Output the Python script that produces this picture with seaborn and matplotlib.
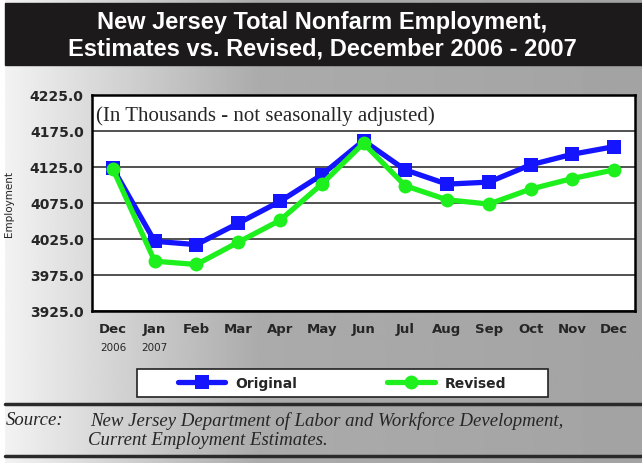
import numpy as np
import pandas as pd
import matplotlib
matplotlib.use("Agg")
import matplotlib.pyplot as plt
import seaborn as sns
from matplotlib.patches import Rectangle
from matplotlib.lines import Line2D

months = ["Dec", "Jan", "Feb", "Mar", "Apr", "May", "Jun", "Jul", "Aug", "Sep", "Oct", "Nov", "Dec"]
years = ["2006", "2007"]
original = [4123.3, 4021.8, 4017.2, 4046.8, 4077.2, 4114.1, 4161.6, 4121.0, 4101.2, 4104.0, 4128.0, 4142.7, 4153.3]
revised = [4122.4, 3994.2, 3989.6, 4020.5, 4050.9, 4101.2, 4157.9, 4098.9, 4079.5, 4073.5, 4094.3, 4109.0, 4121.0]
yticks = [3925, 3975, 4025, 4075, 4125, 4175, 4225]
series = ["Original", "Revised"]
colors = {"Original": "#1414ff", "Revised": "#1ef01e"}
markers = {"Original": "s", "Revised": "o"}

df = pd.DataFrame({
    "pos": list(range(len(months))) * 2,
    "Employment": original + revised,
    "series": ["Original"] * len(months) + ["Revised"] * len(months),
})

sns.set_style("white")
plt.rcParams["font.family"] = ["DejaVu Sans"]

W, H = 642, 464
fig = plt.figure(figsize=(W / 100, H / 100), dpi=100)

# pixel canvas for background, title bar, rules and source note
bg = fig.add_axes([0, 0, 1, 1], zorder=0)
bg.set_xlim(0, W)
bg.set_ylim(H, 0)
bg.axis("off")
grad = np.interp(np.linspace(0, 1, 400), [0, 0.4, 1], [0.95, 0.67, 0.64])
bg.imshow(grad[None, :], cmap="gray", vmin=0, vmax=1, aspect="auto",
          extent=(5, W, H, 0), zorder=0)
bg.add_patch(Rectangle((5, 4), W - 5, 62, color="#1c1a1a", zorder=1))
bg.text(322, 23, "New Jersey Total Nonfarm Employment,", color="white",
        family="Liberation Sans", weight="bold",
        ha="center", va="center", size=17, zorder=2)
bg.text(322, 49, "Estimates vs. Revised, December 2006 - 2007", color="white",
        family="Liberation Sans", weight="bold",
        ha="center", va="center", size=17, zorder=2)
bg.plot([5, W], [405, 405], color="#2a2a2a", lw=2.5, zorder=1)
bg.plot([5, W], [457, 457], color="#2a2a2a", lw=2.5, zorder=1)
bg.text(6, 421, "Source:", family="Liberation Serif", style="italic",
        size=13.5, va="center", zorder=2)
bg.text(90, 421, "New Jersey Department of Labor and Workforce Development,",
        family="Liberation Serif", style="italic", size=13.5, va="center", zorder=2)
bg.text(88, 441, "Current Employment Estimates.",
        family="Liberation Serif", style="italic", size=13.5, va="center", zorder=2)

# legend box
bg.add_patch(Rectangle((137, 370), 411, 28, facecolor="white",
                       edgecolor="#222222", lw=1.2, zorder=1))

ax = fig.add_axes([92 / W, 1 - 312 / H, 543 / W, 216 / H], zorder=2)
ax.set_facecolor("white")
sns.lineplot(data=df, x="pos", y="Employment", hue="series", style="series",
             palette=colors, markers=markers, dashes=False, lw=3.8,
             markersize=10, markeredgewidth=0, legend=False, ax=ax)

ax.set_xlim(-0.5, len(months) - 0.5)
ax.set_ylim(yticks[0], yticks[-1])
ax.set_yticks(yticks, labels=[f"{v:.1f}" for v in yticks])
ax.set_xticks(np.arange(-0.5, len(months), 1), labels=[])
ax.set_xticks(range(len(months)), labels=months, minor=True)
ax.tick_params(axis="x", which="major", length=4, width=1.2, direction="out", color="black")
ax.tick_params(axis="x", which="minor", length=0, pad=8)
ax.tick_params(axis="y", length=4, width=1.2, direction="out", color="black", pad=2)
for lab in ax.get_xticklabels(minor=True):
    lab.set_fontweight("bold")
    lab.set_fontsize(9.5)
for lab in ax.get_yticklabels():
    lab.set_fontweight("bold")
    lab.set_fontsize(10)
for i, yr in enumerate(years):
    ax.text(i, -0.165, yr, transform=ax.get_xaxis_transform(), ha="center",
            va="center", size=7.5)

ax.yaxis.grid(True, color="#222222", lw=1.1)
ax.set_axisbelow(True)
for sp in ax.spines.values():
    sp.set_color("black")
    sp.set_linewidth(1.8)

ax.set_xlabel("")
ax.set_ylabel("Employment", size=7.5)
ax.yaxis.set_label_coords((14 - 92) / 543, 0.5)
ax.text(0.007, 0.905, "(In Thousands - not seasonally adjusted)",
        transform=ax.transAxes, family="Liberation Serif", size=15, va="center")

handles = [Line2D([], [], color=colors[s], marker=markers[s], lw=3.8,
                  markersize=10, markeredgewidth=0) for s in series]
leg = fig.legend(handles, series, loc="center", ncol=2, frameon=False,
                 bbox_to_anchor=(342 / W, 1 - 384 / H), handlelength=3.4,
                 handletextpad=0.7, columnspacing=6.5,
                 prop={"weight": "bold", "size": 10})
leg.set_zorder(3)

fig.savefig("out.png", dpi=100)
